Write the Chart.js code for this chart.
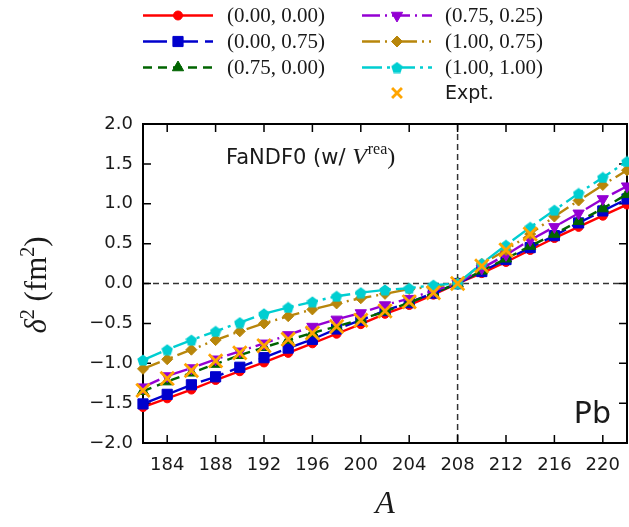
<!DOCTYPE html>
<html>
<head>
<meta charset="utf-8">
<script src="https://cdn.jsdelivr.net/npm/chart.js@4.4.1/dist/chart.umd.min.js"></script>
<style>
html, body { margin: 0; padding: 0; background: #fff; }
#wrap { width: 629px; height: 527px; }
</style>
</head>
<body>
<div id="wrap"><canvas id="chart" width="629" height="527"></canvas></div>
<script>
// mass numbers of the Pb isotopes (even A only)
const massNumbers = [182, 184, 186, 188, 190, 192, 194, 196, 198, 200, 202,
                     204, 206, 208, 210, 212, 214, 216, 218, 220, 222];
const xTicks = [184, 188, 192, 196, 200, 204, 208, 212, 216, 220];
const yTicks = [-2.0, -1.5, -1.0, -0.5, 0.0, 0.5, 1.0, 1.5, 2.0];

// delta <r^2> relative to 208Pb, fm^2
const d0000 = [-1.55, -1.44, -1.33, -1.21, -1.10, -0.99, -0.87, -0.75, -0.63, -0.51, -0.38,
               -0.27, -0.14, 0, 0.13, 0.27, 0.42, 0.57, 0.71, 0.85, 0.99];
const d0075 = [-1.51, -1.39, -1.27, -1.17, -1.05, -0.93, -0.81, -0.70, -0.57, -0.46, -0.34,
               -0.24, -0.12, 0, 0.15, 0.30, 0.45, 0.60, 0.76, 0.91, 1.06];
const d7500 = [-1.35, -1.23, -1.12, -1.01, -0.90, -0.80, -0.71, -0.62, -0.54, -0.45, -0.35,
               -0.24, -0.12, 0, 0.16, 0.31, 0.47, 0.62, 0.78, 0.94, 1.12];
const d7525 = [-1.30, -1.16, -1.06, -0.95, -0.85, -0.75, -0.645, -0.54, -0.45, -0.37, -0.27,
               -0.19, -0.09, 0, 0.19, 0.36, 0.545, 0.71, 0.88, 1.06, 1.22];
const d10075 = [-1.07, -0.95, -0.83, -0.71, -0.60, -0.50, -0.41, -0.325, -0.25, -0.185, -0.13,
                -0.07, -0.04, 0, 0.245, 0.42, 0.62, 0.84, 1.04, 1.235, 1.42];
const d10100 = [-0.96, -0.83, -0.71, -0.60, -0.49, -0.38, -0.30, -0.23, -0.16, -0.115, -0.08,
                -0.06, -0.02, 0, 0.25, 0.48, 0.705, 0.92, 1.13, 1.33, 1.53];

const exptA = [182, 184, 186, 188, 190, 192, 194, 196, 198, 200, 202, 204, 206, 208, 210, 212, 214];
const expt = [-1.34, -1.19, -1.09, -0.97, -0.87, -0.78, -0.70, -0.62, -0.54, -0.46, -0.345,
              -0.23, -0.115, 0, 0.22, 0.42, 0.62];

const labels = ['(0.00, 0.00)', '(0.00, 0.75)', '(0.75, 0.00)',
                '(0.75, 0.25)', '(1.00, 0.75)', '(1.00, 1.00)', 'Expt.'];

function pts(xs, ys) {
    return xs.map((x, i) => ({x: x, y: ys[i]}));
}

// pentagon marker, Chart.js has no built-in one
function pentagon(size, color) {
    const c = document.createElement('canvas');
    c.width = size; c.height = size;
    const g = c.getContext('2d');
    const r = size / 2;
    const cy = r + r * (1 - Math.cos(Math.PI / 5)) / 2;
    g.beginPath();
    for (let i = 0; i < 5; i++) {
        const a = -Math.PI / 2 + i * 2 * Math.PI / 5;
        g.lineTo(r + r * Math.cos(a), cy + r * Math.sin(a));
    }
    g.closePath();
    g.fillStyle = color;
    g.fill();
    return c;
}

function series(label, ys, color, dash, style, radius, rotation, order) {
    return {
        label: label,
        data: pts(massNumbers, ys),
        borderColor: color,
        backgroundColor: color,
        borderWidth: 2.4,
        borderDash: dash,
        pointStyle: style,
        pointRadius: radius,
        pointRotation: rotation,
        pointBorderWidth: 1,
        pointBorderColor: color,
        pointBackgroundColor: color,
        tension: 0,
        clip: false,
        order: order
    };
}

const datasets = [
    series(labels[0], d0000, '#ff0000', [], 'circle', 4.5, 0, 7),
    series(labels[1], d0075, '#0000cd', [24, 7], 'rect', 7.2, 0, 6),
    series(labels[2], d7500, '#006400', [9, 6], 'triangle', 6.5, 0, 5),
    series(labels[3], d7525, '#9400d3', [18, 5, 2, 5], 'triangle', 6.5, 180, 4),
    series(labels[4], d10075, '#b8860b', [18, 5, 2, 5, 2, 5], 'rectRot', 5.5, 0, 3),
    series(labels[5], d10100, '#00ced1', [20, 5, 3, 5], pentagon(12, '#00ced1'), 6, 0, 2),
    {
        label: labels[6],
        data: pts(exptA, expt),
        showLine: false,
        borderColor: '#ffa500',
        backgroundColor: '#ffa500',
        pointStyle: 'crossRot',
        pointRadius: 9.5,
        pointBorderWidth: 2.8,
        pointBorderColor: '#ffa500',
        clip: false,
        order: 1
    }
];

const TEXT = '#1a1a1a';

// box, inward ticks and the dashed zero lines
const framePlugin = {
    id: 'frame',
    beforeDatasetsDraw(chart) {
        const {ctx, chartArea: a, scales: {x, y}} = chart;
        ctx.save();
        ctx.strokeStyle = '#333';
        ctx.lineWidth = 1.5;
        ctx.setLineDash([6, 4]);
        const y0 = y.getPixelForValue(0);
        const x0 = x.getPixelForValue(208);
        ctx.beginPath();
        ctx.moveTo(a.left, y0); ctx.lineTo(a.right, y0);
        ctx.moveTo(x0, a.top); ctx.lineTo(x0, a.bottom);
        ctx.stroke();
        ctx.setLineDash([]);

        ctx.strokeStyle = '#000';
        ctx.lineWidth = 1.5;
        ctx.beginPath();
        xTicks.forEach(v => {
            const px = x.getPixelForValue(v);
            ctx.moveTo(px, a.bottom); ctx.lineTo(px, a.bottom - 8);
            ctx.moveTo(px, a.top); ctx.lineTo(px, a.top + 8);
        });
        yTicks.forEach(v => {
            const py = y.getPixelForValue(v);
            ctx.moveTo(a.left, py); ctx.lineTo(a.left + 8, py);
            ctx.moveTo(a.right, py); ctx.lineTo(a.right - 8, py);
        });
        ctx.stroke();

        ctx.lineWidth = 2;
        ctx.strokeRect(a.left, a.top, a.right - a.left, a.bottom - a.top);
        ctx.restore();
    }
};

// two-column legend above the axes, plus the text annotations
const annotatePlugin = {
    id: 'annotate',
    afterDraw(chart) {
        const {ctx} = chart;
        const rows = [15.5, 41.5, 67.5, 93];
        const cols = [{x1: 143, x2: 213, text: 227}, {x1: 362, x2: 432, text: 445}];
        const slots = [[0, 0], [0, 1], [0, 2], [1, 0], [1, 1], [1, 2], [1, 3]];
        ctx.save();
        chart.data.datasets.forEach((ds, i) => {
            const col = cols[slots[i][0]];
            const yy = rows[slots[i][1]];
            const mx = (col.x1 + col.x2) / 2;
            if (ds.showLine !== false) {
                ctx.strokeStyle = ds.borderColor;
                ctx.lineWidth = ds.borderWidth;
                ctx.setLineDash(ds.borderDash);
                ctx.beginPath();
                ctx.moveTo(col.x1, yy); ctx.lineTo(col.x2, yy);
                ctx.stroke();
                ctx.setLineDash([]);
            }
            ctx.fillStyle = ds.pointBackgroundColor || ds.backgroundColor;
            ctx.strokeStyle = ds.pointBorderColor;
            ctx.lineWidth = ds.pointBorderWidth;
            Chart.helpers.drawPoint(ctx, {
                pointStyle: ds.pointStyle,
                rotation: ds.pointRotation || 0,
                radius: ds.label === 'Expt.' ? 7 : ds.pointRadius,
                borderWidth: ds.pointBorderWidth
            }, mx, yy);

            ctx.fillStyle = TEXT;
            ctx.textBaseline = 'middle';
            ctx.textAlign = 'left';
            if (ds.label === 'Expt.') {
                ctx.font = '19px "DejaVu Sans"';
            } else {
                ctx.font = '21px "Liberation Serif"';
            }
            ctx.fillText(ds.label, col.text, yy + 1);
        });

        // model label inside the axes
        ctx.textBaseline = 'alphabetic';
        let tx = 226;
        const base = 164;
        ctx.font = '21px "DejaVu Sans"';
        ctx.fillText('FaNDF0 (w/ ', tx, base);
        tx += ctx.measureText('FaNDF0 (w/ ').width;
        ctx.font = 'italic 24px "Liberation Serif"';
        ctx.fillText('V', tx, base);
        tx += ctx.measureText('V').width + 1;
        ctx.font = '16px "Liberation Serif"';
        ctx.fillText('rea', tx, base - 10);
        tx += ctx.measureText('rea').width;
        ctx.font = '24px "Liberation Serif"';
        ctx.fillText(')', tx, base);

        ctx.font = '30px "DejaVu Sans"';
        ctx.textAlign = 'right';
        ctx.fillText('Pb', 611, 423);

        // y axis title, rotated
        ctx.translate(36, 285);
        ctx.rotate(-Math.PI / 2);
        const parts = [
            {t: '\u03b4', f: 'italic 31px "Liberation Serif"', dy: 0},
            {t: '2', f: '20px "Liberation Serif"', dy: -12},
            {t: ' (fm', f: '31px "Liberation Serif"', dy: 0},
            {t: '2', f: '20px "Liberation Serif"', dy: -12},
            {t: ')', f: '31px "Liberation Serif"', dy: 0}
        ];
        let w = 0;
        parts.forEach(p => { ctx.font = p.f; w += ctx.measureText(p.t).width; });
        let px = -w / 2;
        ctx.textAlign = 'left';
        parts.forEach(p => {
            ctx.font = p.f;
            ctx.fillText(p.t, px, 10 + p.dy);
            px += ctx.measureText(p.t).width;
        });
        ctx.restore();
    }
};

new Chart(document.getElementById('chart'), {
    type: 'line',
    data: {datasets: datasets},
    options: {
        responsive: false,
        animation: false,
        events: [],
        layout: {autoPadding: false, padding: {top: 124, right: 2, left: 0, bottom: 0}},
        plugins: {legend: {display: false}, tooltip: {enabled: false}},
        scales: {
            x: {
                type: 'linear',
                min: 182,
                max: 222,
                afterBuildTicks: s => { s.ticks = xTicks.map(v => ({value: v})); },
                afterFit: s => { s.height = 84; s.paddingLeft = 0; s.paddingRight = 0; },
                grid: {display: false, drawTicks: false},
                border: {display: false},
                ticks: {
                    font: {family: 'DejaVu Sans', size: 18},
                    color: TEXT,
                    padding: 12,
                    maxRotation: 0,
                    autoSkip: false
                },
                title: {
                    display: true,
                    text: 'A',
                    color: TEXT,
                    font: {family: 'Liberation Serif', style: 'italic', size: 32},
                    padding: {top: 0, bottom: 3}
                }
            },
            y: {
                type: 'linear',
                min: -2,
                max: 2,
                afterBuildTicks: s => { s.ticks = yTicks.map(v => ({value: v})); },
                afterFit: s => { s.width = 143; s.paddingTop = 0; s.paddingBottom = 0; },
                grid: {display: false, drawTicks: false},
                border: {display: false},
                ticks: {
                    font: {family: 'DejaVu Sans', size: 18},
                    color: TEXT,
                    padding: 10,
                    callback: v => (v < 0 ? '\u2212' : '') + Math.abs(v).toFixed(1)
                }
            }
        }
    },
    plugins: [framePlugin, annotatePlugin]
});
</script>
</body>
</html>
